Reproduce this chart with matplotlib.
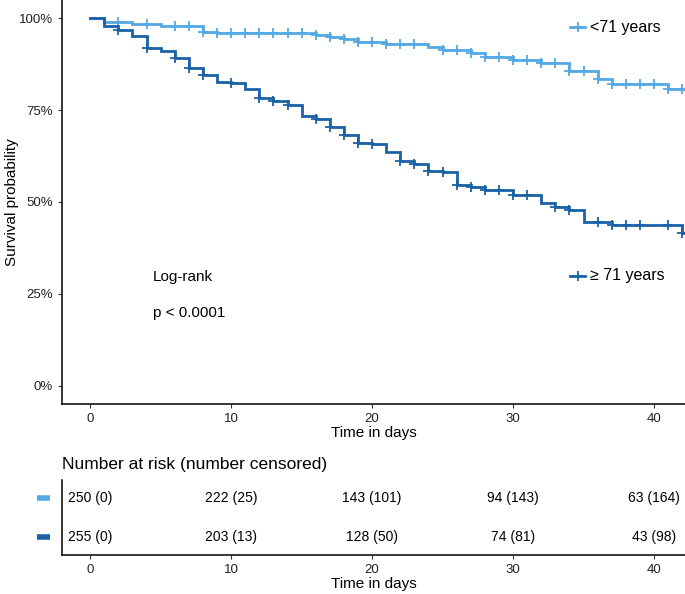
import numpy as np
import matplotlib
matplotlib.use("Agg")
import matplotlib.pyplot as plt

plt.rcParams['font.family'] = ['Liberation Sans', 'DejaVu Sans']

# Kaplan-Meier step data (survival in %)
young_t = [0, 1, 3, 5, 8, 9, 16, 17, 18, 19, 21, 24, 25, 27, 28, 30, 32, 34, 36, 37, 41, 42.3]
young_s = [100, 99.1, 98.5, 98.0, 96.2, 95.9, 95.5, 94.9, 94.3, 93.7, 93.1, 92.3, 91.4,
           90.5, 89.6, 88.7, 87.8, 85.7, 83.5, 82.1, 80.7, 80.7]
young_cens = [2, 4, 6, 7, 8, 9, 10, 11, 12, 13, 14, 15, 16, 17, 18, 19, 20, 21, 22, 23,
              25, 26, 27, 28, 29, 30, 31, 32, 33, 34, 35, 36, 37, 38, 39, 40, 41, 42]

old_t = [0, 1, 2, 3, 4, 5, 6, 7, 8, 9, 10, 11, 12, 13, 14, 15, 16, 17, 18, 19, 20, 21,
         22, 23, 24, 25, 26, 27, 28, 30, 32, 33, 34, 35, 37, 42, 42.3]
old_s = [100, 98, 96.8, 95.1, 92.0, 91.1, 89.3, 86.6, 84.5, 82.7, 82.3, 80.7, 78.4, 77.5,
         76.4, 73.4, 72.7, 70.3, 68.2, 66.2, 65.8, 63.5, 61.2, 60.3, 58.5, 58.2, 54.6, 54.0,
         53.3, 51.9, 49.6, 48.7, 47.8, 44.5, 43.8, 41.5, 41.5]
old_cens = [2, 4, 6, 7, 8, 10, 12, 13, 14, 16, 17, 18, 19, 20, 22, 23, 24, 25, 26, 27, 28,
            29, 30, 31, 33, 34, 36, 37, 38, 39, 41, 42]

groups = ["<71 years", "\u2265 71 years"]
colors = ["#53A9E5", "#1A62A6"]

risk_times = [0, 10, 20, 30, 40]
young_risk = ["250 (0)", "222 (25)", "143 (101)", "94 (143)", "63 (164)"]
old_risk = ["255 (0)", "203 (13)", "128 (50)", "74 (81)", "43 (98)"]

W, H = 685, 594
fig = plt.figure(figsize=(W / 100, H / 100), dpi=100)

# main survival plot
ax = fig.add_axes([62 / W, 1 - 404 / H, 1 - 62 / W, 404 / H])
for t, s, c, col in [(young_t, young_s, young_cens, colors[0]),
                     (old_t, old_s, old_cens, colors[1])]:
    t = np.array(t)
    s = np.array(s)
    ax.step(t, s, where='post', color=col, lw=2.0, solid_joinstyle='miter')
    idx = np.searchsorted(t, np.array(c), side='right') - 1
    ax.plot(c, s[idx], ls='none', marker='+', ms=7, mew=1.3, color=col)

ax.set_xlim(-2, 42.2)
ax.set_ylim(-5, 105)
ax.set_xticks([0, 10, 20, 30, 40])
ax.set_yticks([0, 25, 50, 75, 100])
ax.set_yticklabels(["0%", "25%", "50%", "75%", "100%"])
ax.tick_params(labelsize=9.5, length=3, width=0.8, colors='#333333', labelcolor='#222222')
ax.set_xlabel("Time in days", fontsize=11, labelpad=1)
ax.set_ylabel("Survival probability", fontsize=11, labelpad=0)
for sp in ['top', 'right']:
    ax.spines[sp].set_visible(False)
for sp in ['left', 'bottom']:
    ax.spines[sp].set_linewidth(1.1)

# legend-style labels inside the plot
for yy, lab, col in [(0.933, groups[0], colors[0]), (0.318, groups[1], colors[1])]:
    ax.plot([0.828], [yy], transform=ax.transAxes, marker='+', ms=7, mew=1.3,
            color=col, clip_on=False)
    ax.plot([0.816, 0.840], [yy, yy], transform=ax.transAxes, lw=2, color=col, clip_on=False)
    ax.text(0.848, yy, lab, transform=ax.transAxes, fontsize=11.5, va='center', ha='left')

ax.text(0.146, 0.314, "Log-rank", transform=ax.transAxes, fontsize=11, va='center')
ax.text(0.146, 0.225, "p < 0.0001", transform=ax.transAxes, fontsize=11, va='center')

# number at risk table
tab = fig.add_axes([62 / W, 1 - 555 / H, 1 - 62 / W, 75 / H])
tab.set_xlim(-2, 42.2)
tab.set_ylim(0, 1)
for yy, vals in [(0.76, young_risk), (0.24, old_risk)]:
    for x, v in zip(risk_times, vals):
        tab.text(x, yy, v, ha='center', va='center', fontsize=10)
tab.set_xticks([0, 10, 20, 30, 40])
tab.set_yticks([])
tab.tick_params(labelsize=9.5, length=3, width=0.8, colors='#333333', labelcolor='#222222')
tab.set_xlabel("Time in days", fontsize=11, labelpad=1)
for sp in ['top', 'right']:
    tab.spines[sp].set_visible(False)
for sp in ['left', 'bottom']:
    tab.spines[sp].set_linewidth(1.1)
for yy, col in [(0.76, colors[0]), (0.24, colors[1])]:
    tab.plot([-0.040, -0.019], [yy, yy], transform=tab.transAxes, lw=4, color=col,
             solid_capstyle='butt', clip_on=False)
fig.text(62 / W, 1 - 464 / H, "Number at risk (number censored)", fontsize=12.5,
         va='center', ha='left')

fig.savefig("out.png", dpi=100)
